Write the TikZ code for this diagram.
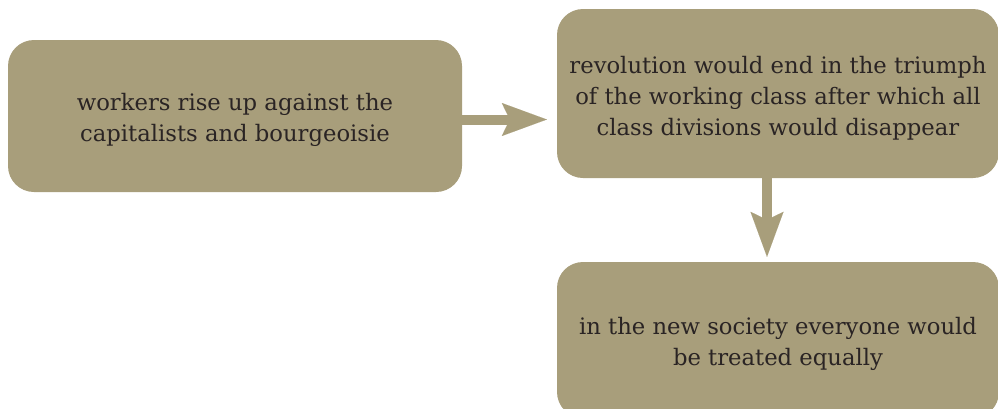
\documentclass[tikz,border=0pt]{standalone}
\usepackage{fontspec}
\setmainfont{DejaVu Serif}
\usetikzlibrary{arrows.meta}
\definecolor{boxtan}{HTML}{A89E7B}
\definecolor{txt}{HTML}{2A2424}
\newcommand\dnstrut{\rule{0pt}{26pt}}
\tikzset{
  box/.style={fill=boxtan, draw=none, rounded corners=26pt, align=center,
    text=txt, font=\fontsize{22.7pt}{31pt}\selectfont, inner sep=0pt},
  conn/.style={draw=boxtan, line width=10pt,
    -{Stealth[length=45pt,width=33pt,inset=8pt,line width=0.01pt]}}
}
\begin{document}
\begin{tikzpicture}[x=1pt,y=-1pt]
\useasboundingbox (0,0) rectangle (998,408);
\node[box, minimum width=454pt, minimum height=152pt] (b1) at (235,116)
  {\dnstrut workers rise up against the\\capitalists and bourgeoisie};
\node[box, minimum width=442pt, minimum height=169pt] (b2) at (778,93.5)
  {\dnstrut revolution would end in the triumph\\of the working class after which all\\class divisions would disappear};
\node[box, minimum width=442pt, minimum height=156pt] (b3) at (778,340)
  {\dnstrut in the new society everyone would\\be treated equally};
\draw[conn, shorten >=10pt] ([yshift=-3.5pt]b1.east) -- ([yshift=-3.5pt]b1.east -| b2.west);
\draw[conn, shorten >=5pt] ([xshift=-11pt]b2.south) -- ([xshift=-11pt]b2.south |- b3.north);
\end{tikzpicture}
\end{document}
